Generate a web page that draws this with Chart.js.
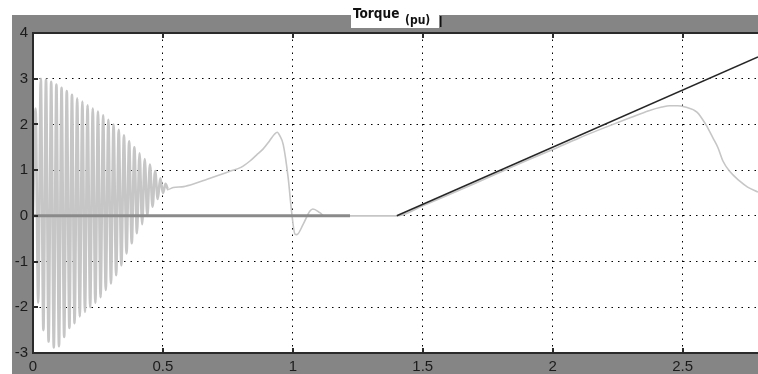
<!DOCTYPE html>
<html>
<head>
<meta charset="utf-8">
<script src="https://cdn.jsdelivr.net/npm/chart.js@4/dist/chart.umd.min.js"></script>
<style>
html,body{margin:0;padding:0;background:#fff;}
canvas{display:block;}
</style>
</head>
<body>
<canvas id="c" width="758" height="374"></canvas>
<script>
// ---- data ----
const xTicks = [0, 0.5, 1, 1.5, 2, 2.5];
const yTicks = [-3, -2, -1, 0, 1, 2, 3, 4];
const chartTitle = "Torque";
const chartUnit = "(pu)";

// electromagnetic torque (gray trace): time (s) and torque (pu)
const torqueT = [
  0.00,0.01,0.02,0.03,0.04,0.05,0.06,0.07,0.08,0.09,
  0.10,0.11,0.12,0.13,0.14,0.15,0.16,0.17,0.18,0.19,
  0.20,0.21,0.22,0.23,0.24,0.25,0.26,0.27,0.28,0.29,
  0.30,0.31,0.32,0.33,0.34,0.35,0.36,0.37,0.38,0.39,
  0.40,0.41,0.42,0.43,0.44,0.45,0.46,0.47,0.48,0.49,
  0.50,0.51,0.52,
  0.54,0.58,0.62,0.67,0.72,0.76,0.80,0.835,0.86,0.885,0.91,0.93,0.94,0.95,0.963,0.982,0.995,
  1.008,1.015,1.04,1.065,1.077,1.104,1.12,1.40,
  1.50,1.60,1.70,1.80,1.90,2.00,2.10,2.20,2.30,2.37,2.42,2.45,2.48,2.51,2.555,2.59,2.617,2.636,2.655,2.68,2.72,2.75,2.79
];
const torqueV = [
  0.00,2.35,-1.90,3.00,-2.50,2.98,-2.75,2.93,-2.88,2.87,
  -2.85,2.80,-2.65,2.73,-2.45,2.65,-2.35,2.57,-2.20,2.50,
  -2.10,2.42,-2.00,2.35,-1.90,2.28,-1.78,2.20,-1.62,2.10,
  -1.48,2.00,-1.30,1.88,-1.08,1.76,-0.82,1.63,-0.60,1.50,
  -0.38,1.37,-0.18,1.24,0.00,1.12,0.20,0.98,0.37,0.82,
  0.50,0.70,0.58,
  0.62,0.64,0.70,0.80,0.90,0.98,1.06,1.20,1.33,1.46,1.64,1.79,1.83,1.75,1.56,0.83,0.10,
  -0.40,-0.41,-0.18,0.10,0.15,0.07,0.00,0.00,
  0.22,0.46,0.71,0.96,1.21,1.45,1.70,1.93,2.15,2.30,2.38,2.41,2.41,2.38,2.27,1.99,1.70,1.49,1.20,0.98,0.76,0.63,0.52
];

// reference trace at zero (dark gray) before the load ramp
const zeroT = [0, 1.22];
const zeroV = [0, 0];

// load torque ramp (black)
const loadT = [1.40, 2.79];
const loadV = [0.00, 3.475];

// ---- chart ----
const pts = (xs, ys) => xs.map((x, i) => ({x: x, y: ys[i]}));

const frame = {
  id: 'frame',
  beforeDraw(chart) {
    const ctx = chart.ctx, a = chart.chartArea;
    ctx.save();
    ctx.fillStyle = '#ffffff';
    ctx.fillRect(0, 0, chart.width, chart.height);
    ctx.fillStyle = '#858585';
    ctx.fillRect(12, 15, chart.width - 12, chart.height - 15);
    ctx.fillStyle = '#ffffff';
    ctx.fillRect(a.left, a.top, a.right - a.left, a.bottom - a.top);
    ctx.restore();
  },
  afterDatasetsDraw(chart) {
    const ctx = chart.ctx, a = chart.chartArea;
    const xs = chart.scales.x, ys = chart.scales.y;
    ctx.save();
    ctx.strokeStyle = '#2a2a2a';
    ctx.lineWidth = 2;
    ctx.beginPath();
    ctx.moveTo(a.right + 2, a.top);
    ctx.lineTo(a.left, a.top);
    ctx.lineTo(a.left, a.bottom);
    ctx.lineTo(a.right + 2, a.bottom);
    ctx.stroke();
    // inner tick marks
    ctx.lineWidth = 2;
    ctx.beginPath();
    xTicks.forEach(v => {
      const px = Math.round(xs.getPixelForValue(v));
      ctx.moveTo(px, a.bottom); ctx.lineTo(px, a.bottom - 5);
      ctx.moveTo(px, a.top); ctx.lineTo(px, a.top + 5);
    });
    yTicks.forEach(v => {
      const py = Math.round(ys.getPixelForValue(v));
      ctx.moveTo(a.left, py); ctx.lineTo(a.left + 5, py);
    });
    ctx.stroke();
    // title box
    ctx.fillStyle = '#ffffff';
    ctx.fillRect(351, 15, 88, 13);
    ctx.fillStyle = '#111';
    ctx.fillRect(440, 16, 1.5, 11);
    ctx.textBaseline = 'alphabetic';
    ctx.textAlign = 'left';
    ctx.font = 'bold 13.5px "DejaVu Sans Condensed", "DejaVu Sans", sans-serif';
    ctx.fillText(chartTitle, 353, 18);
    ctx.font = 'bold 12px "DejaVu Sans Condensed", "DejaVu Sans", sans-serif';
    ctx.fillText(chartUnit, 405, 24);
    ctx.restore();
  }
};

new Chart(document.getElementById('c'), {
  type: 'line',
  data: {
    datasets: [
      {
        data: pts(torqueT, torqueV),
        borderColor: '#c6c6c6',
        borderWidth: 1.6,
        pointRadius: 0,
        cubicInterpolationMode: 'monotone',
        segment: {
          borderWidth: c => (c.p0.parsed.x < 0.52 ? 2.6 : 1.6)
        },
        order: 3
      },
      {
        data: pts(zeroT, zeroV),
        borderColor: '#8a8a8a',
        borderWidth: 3,
        pointRadius: 0,
        order: 2
      },
      {
        data: pts(loadT, loadV),
        borderColor: '#262626',
        borderWidth: 1.6,
        pointRadius: 0,
        order: 1
      }
    ]
  },
  options: {
    responsive: false,
    animation: false,
    layout: {padding: {top: 33, left: 0, right: 0, bottom: 0}},
    plugins: {legend: {display: false}, tooltip: {enabled: false}, title: {display: false}},
    scales: {
      x: {
        type: 'linear',
        min: 0,
        max: 2.79,
        afterBuildTicks: s => { s.ticks = xTicks.map(v => ({value: v})); },
        afterFit: s => { s.height = 21; },
        grid: {color: '#000', lineWidth: 1, drawTicks: false},
        border: {display: false, dash: [1.5, 5]},
        ticks: {
          padding: 5,
          color: '#1c1c1c',
          font: {family: '"Liberation Sans", Arial, sans-serif', size: 15},
          callback: v => String(v),
          maxRotation: 0
        }
      },
      y: {
        type: 'linear',
        min: -3,
        max: 4,
        afterBuildTicks: s => { s.ticks = yTicks.map(v => ({value: v})); },
        afterFit: s => { s.width = 33; },
        grid: {color: '#000', lineWidth: 1, drawTicks: false},
        border: {display: false, dash: [1.5, 5]},
        ticks: {
          padding: 5,
          color: '#1c1c1c',
          font: {family: '"Liberation Sans", Arial, sans-serif', size: 15},
          callback: v => String(v)
        }
      }
    }
  },
  plugins: [frame]
});
</script>
</body>
</html>
